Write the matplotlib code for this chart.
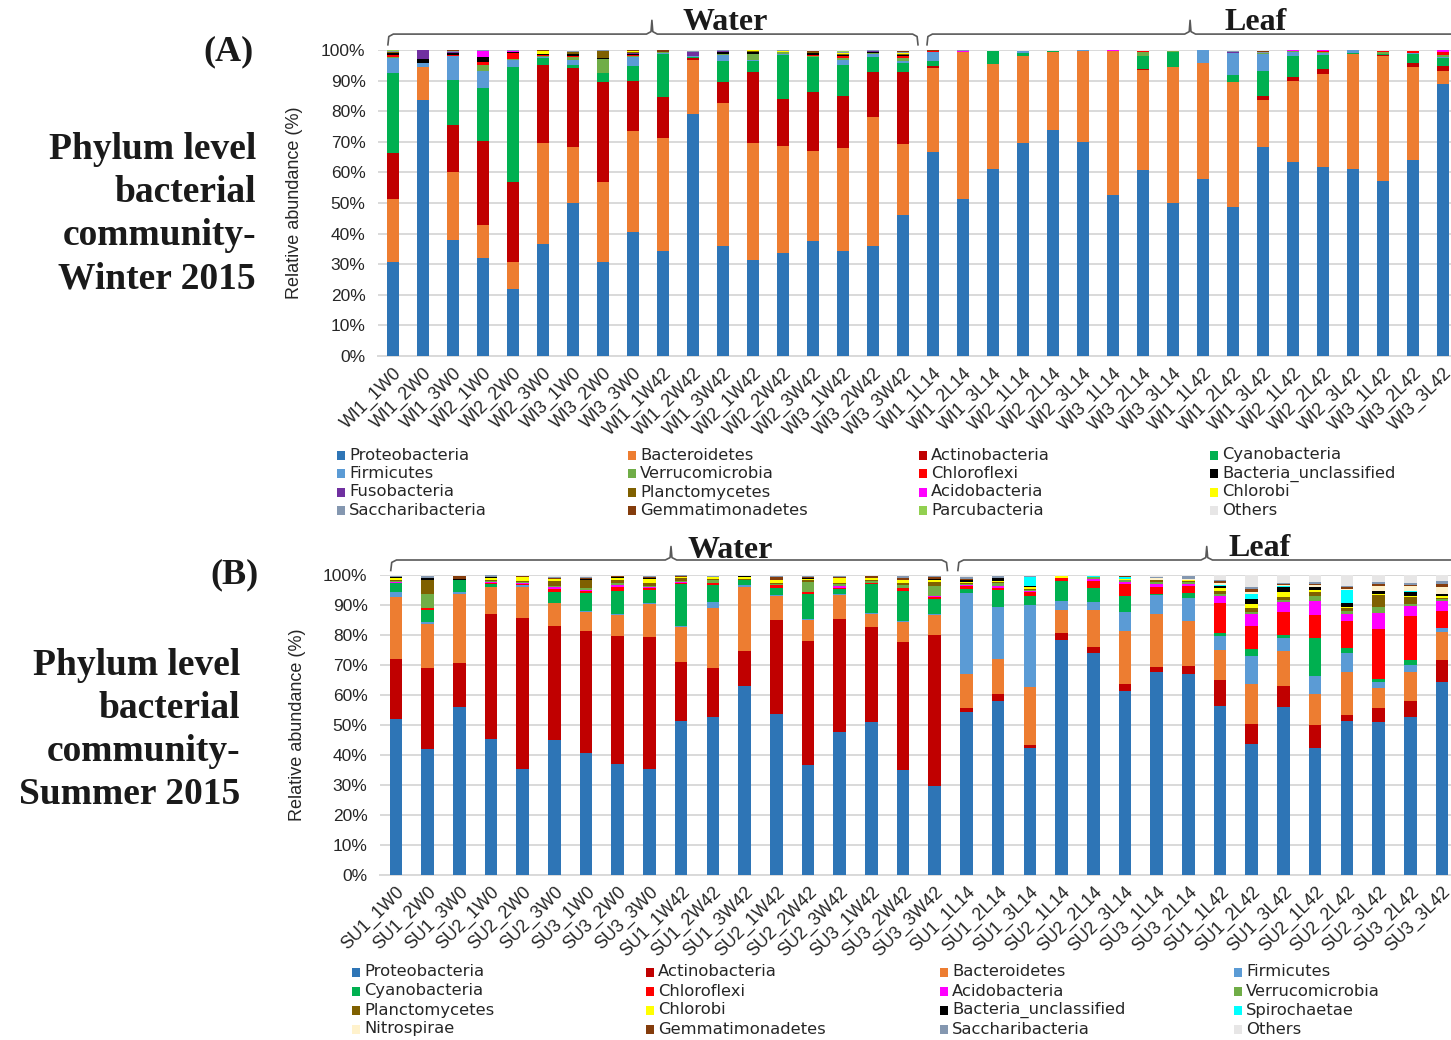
"""
plot.py - Stacked phylum-level relative abundance bars, winter (A) and summer (B) 2015.
"""
import numpy as np
import matplotlib
matplotlib.use("Agg")
import matplotlib.pyplot as plt
import matplotlib.transforms as mtransforms
from matplotlib.patches import Rectangle

W, H = 1451, 1040

COLORS = {
    "Proteobacteria": "#2E75B6", "Bacteroidetes": "#ED7D31", "Actinobacteria": "#C00000",
    "Cyanobacteria": "#00B050", "Firmicutes": "#5B9BD5", "Verrucomicrobia": "#70AD47",
    "Chloroflexi": "#FF0000", "Bacteria_unclassified": "#000000", "Fusobacteria": "#7030A0",
    "Planctomycetes": "#7F6000", "Acidobacteria": "#FF00FF", "Chlorobi": "#FFFF00",
    "Saccharibacteria": "#8497B0", "Gemmatimonadetes": "#843C0C", "Parcubacteria": "#92D050",
    "Others": "#E7E6E6", "Spirochaetae": "#00FFFF", "Nitrospirae": "#FFF2CC",
}

# ---------------- Panel A: winter 2015 ----------------
labels_a = ["WI1_1W0", "WI1_2W0", "WI1_3W0", "WI2_1W0", "WI2_2W0", "WI2_3W0",
            "WI3_1W0", "WI3_2W0", "WI3_3W0", "WI1_1W42", "WI1_2W42", "WI1_3W42",
            "WI2_1W42", "WI2_2W42", "WI2_3W42", "WI3_1W42", "WI3_2W42", "WI3_3W42",
            "WI1_1L14", "WI1_2L14", "WI1_3L14", "WI2_1L14", "WI2_2L14", "WI2_3L14",
            "WI3_1L14", "WI3_2L14", "WI3_3L14", "WI1_1L42", "WI1_2L42", "WI1_3L42",
            "WI2_1L42", "WI2_2L42", "WI2_3L42", "WI3_1L42", "WI3_2L42", "WI3_3L42"]

prot_a = [30.8, 83.5, 37.9, 32.0, 21.8, 36.7, 49.9, 30.8, 40.6, 34.3, 79.1, 36.0, 31.4, 33.6, 37.6, 34.4, 36.0, 46.1,
          66.8, 51.4, 61.2, 69.5, 73.8, 69.8, 52.7, 60.9, 49.9, 57.9, 48.7, 68.3, 63.3, 61.9, 61.2, 57.3, 64.1, 88.9]
bact_a = [20.6, 10.8, 22.1, 10.8, 9.0, 32.8, 18.4, 26.2, 33.0, 36.8, 17.6, 46.8, 38.1, 35.0, 29.5, 33.6, 42.2, 23.1,
          27.4, 47.8, 34.2, 28.7, 25.4, 30.0, 47.0, 32.6, 44.7, 37.9, 40.9, 15.2, 26.6, 30.4, 37.4, 40.6, 30.4, 4.3]
actino_a = [15.1, 0, 15.5, 27.4, 26.2, 25.7, 25.7, 32.5, 16.3, 13.6, 0.7, 6.7, 23.3, 15.5, 19.1, 16.9, 14.6, 23.6,
            0.6, 0, 0, 0, 0, 0, 0, 0.4, 0, 0, 0, 1.5, 1.3, 1.5, 0, 0.4, 1.2, 1.6]
cyano_a = [25.9, 0.2, 14.6, 17.3, 37.5, 2.2, 1.2, 2.9, 4.8, 14.1, 0.2, 6.9, 3.6, 14.3, 11.4, 10.3, 4.8, 2.8,
           1.6, 0.3, 4.4, 0.9, 0.6, 0, 0, 4.0, 4.6, 0, 2.3, 8.0, 6.7, 4.6, 0.3, 0.5, 2.9, 2.6]
firm_a = [5.0, 1.2, 7.8, 5.5, 2.1, 0.3, 1.4, 0.2, 2.9, 0.3, 0.3, 2.0, 0.2, 0.4, 0.2, 1.4, 1.1, 0.9,
          2.8, 0, 0, 0.5, 0, 0.2, 0, 0, 0, 4.2, 7.1, 5.7, 1.3, 0.7, 1.1, 0, 0.3, 0.3]
verru_a = [0.3, 0, 0.2, 2.2, 0.4, 0.5, 1.0, 4.3, 0.3, 0.1, 0, 0.2, 2.1, 0.6, 0.2, 0.8, 0.2, 1.0,
           0, 0, 0, 0.2, 0, 0, 0, 1.6, 0.6, 0, 0, 0.3, 0.4, 0.3, 0, 0.6, 0.2, 0.8]
chloro_a = [0.8, 0, 0.4, 0.9, 2.1, 0.3, 0.5, 0, 0.5, 0.2, 0, 0, 0.1, 0, 0.4, 0.5, 0.1, 0.4,
            0.4, 0, 0, 0, 0, 0, 0, 0.3, 0, 0, 0, 0, 0, 0.3, 0, 0.3, 0.5, 1.0]
uncl_a = [0.5, 1.3, 0.5, 1.5, 0.1, 0.1, 0.6, 0.4, 0.2, 0, 0, 0.6, 0.5, 0, 0.6, 0.6, 0.4, 0.5,
          0, 0, 0, 0, 0, 0, 0, 0, 0, 0, 0, 0, 0, 0, 0, 0, 0, 0]
fuso_a = [0, 3.0, 0.3, 0, 0.3, 0, 0, 0, 0.5, 0, 1.6, 0.4, 0, 0, 0, 0, 0.2, 0,
          0.2, 0, 0, 0, 0, 0, 0, 0, 0, 0, 0.3, 0, 0, 0, 0, 0, 0, 0]
plancto_a = [0.3, 0, 0.2, 0, 0, 0.2, 0.5, 2.4, 0.1, 0, 0, 0.1, 0.3, 0.1, 0.4, 0.3, 0.1, 0.4,
             0, 0, 0, 0, 0, 0, 0, 0, 0, 0, 0, 0, 0, 0, 0, 0, 0, 0]
acido_a = [0, 0, 0, 2.2, 0.3, 0, 0, 0, 0.3, 0, 0, 0, 0, 0, 0, 0, 0, 0,
           0, 0.3, 0, 0, 0, 0, 0.3, 0, 0, 0, 0, 0, 0.4, 0.2, 0, 0, 0, 0.4]
chlorobi_a = [0.2, 0, 0, 0, 0, 0.9, 0.2, 0.1, 0.1, 0, 0, 0, 0.3, 0.3, 0, 0.2, 0, 0.2,
              0, 0, 0, 0, 0, 0, 0, 0, 0, 0, 0, 0, 0, 0, 0, 0, 0, 0]
sacch_a = [0.2, 0, 0.3, 0.1, 0.1, 0.1, 0.2, 0.1, 0.2, 0, 0.3, 0.2, 0, 0.1, 0.1, 0.2, 0.2, 0.2,
           0, 0.1, 0, 0, 0, 0, 0, 0, 0, 0, 0.4, 0.4, 0, 0, 0, 0, 0, 0]
gemma_a = [0.1, 0, 0.1, 0, 0, 0.1, 0.2, 0, 0.1, 0.5, 0, 0, 0.1, 0, 0.3, 0.2, 0, 0.6,
           0.1, 0, 0, 0, 0, 0, 0, 0, 0, 0, 0, 0.2, 0, 0, 0, 0, 0, 0]
parcu_a = [0.1, 0, 0, 0, 0, 0, 0, 0, 0, 0, 0, 0, 0, 0, 0, 0.4, 0, 0,
           0, 0, 0, 0, 0, 0, 0, 0, 0, 0, 0, 0, 0, 0, 0, 0, 0, 0]
others_a = [0.1, 0, 0.1, 0.1, 0.1, 0.1, 0.2, 0.1, 0.1, 0.1, 0.2, 0.1, 0, 0.1, 0.2, 0.2, 0.1, 0.2,
            0.1, 0.1, 0.2, 0.2, 0.2, 0, 0, 0.2, 0.2, 0, 0.3, 0.4, 0, 0.1, 0, 0.3, 0.4, 0.1]

# ---------------- Panel B: summer 2015 ----------------
labels_b = ["SU1_1W0", "SU1_2W0", "SU1_3W0", "SU2_1W0", "SU2_2W0", "SU2_3W0",
            "SU3_1W0", "SU3_2W0", "SU3_3W0", "SU1_1W42", "SU1_2W42", "SU1_3W42",
            "SU2_1W42", "SU2_2W42", "SU2_3W42", "SU3_1W42", "SU3_2W42", "SU3_3W42",
            "SU1_1L14", "SU1_2L14", "SU1_3L14", "SU2_1L14", "SU2_2L14", "SU2_3L14",
            "SU3_1L14", "SU3_2L14", "SU1_1L42", "SU1_2L42", "SU1_3L42", "SU2_1L42",
            "SU2_2L42", "SU2_3L42", "SU3_2L42", "SU3_3L42"]

prot_b = [51.9, 42.0, 56.0, 45.4, 35.4, 45.0, 40.7, 36.9, 35.3, 51.3, 52.6, 62.9, 53.7, 36.7, 47.7, 51.0, 35.0, 29.7,
          54.3, 58.1, 42.4, 78.2, 74.1, 61.3, 67.6, 67.0, 56.3, 43.6, 56.0, 42.4, 51.3, 51.0, 52.8, 64.4]
actino_b = [20.0, 27.1, 14.7, 41.6, 50.4, 37.9, 40.6, 42.8, 44.0, 19.7, 16.5, 11.9, 31.4, 41.2, 37.6, 31.6, 42.6, 50.3,
            1.4, 2.2, 0.8, 2.4, 2.0, 2.3, 1.7, 2.8, 8.8, 6.7, 7.1, 7.6, 2.0, 4.7, 5.3, 7.2]
bact_b = [20.9, 14.5, 23.0, 9.0, 10.3, 7.9, 6.4, 7.1, 11.0, 11.6, 20.0, 21.2, 7.8, 7.2, 7.9, 4.4, 6.6, 6.7,
          11.2, 11.7, 19.4, 7.7, 12.1, 17.7, 17.6, 15.0, 9.8, 13.3, 11.6, 10.3, 14.3, 6.5, 9.5, 9.3]
firm_b = [1.4, 0.8, 0.5, 0, 0.5, 0, 0.3, 0.3, 0.3, 0.3, 1.9, 0.6, 0.4, 0.4, 0.4, 0.4, 0.4, 0.2,
          27.1, 17.4, 27.4, 3.0, 2.8, 6.5, 6.4, 7.5, 4.8, 9.5, 4.4, 6.0, 6.4, 2.2, 2.4, 1.3]
cyano_b = [3.0, 3.9, 4.1, 0.9, 0, 3.4, 6.1, 7.7, 4.4, 14.0, 5.7, 1.7, 2.3, 8.2, 1.7, 9.7, 10.2, 5.1,
           1.3, 5.6, 3.1, 6.7, 4.7, 5.2, 0.3, 1.8, 1.0, 2.2, 0.9, 12.8, 1.6, 0.9, 1.7, 0.2]
chloro_b = [0.3, 0.8, 0, 0.6, 0.4, 1.1, 0.5, 1.3, 0.7, 0.4, 0.7, 0, 1.0, 0.6, 0.3, 0.4, 1.0, 0.8,
            1.1, 0.8, 1.1, 1.1, 2.4, 4.0, 2.5, 2.3, 10.0, 7.8, 7.8, 7.6, 9.2, 16.7, 14.6, 5.6]
acido_b = [0.3, 0, 0, 0.2, 0.3, 0.6, 0.3, 0.7, 0.4, 0.3, 0, 0, 0, 0, 0.9, 0, 0, 0.3,
           0.3, 0.7, 0.6, 0, 0.6, 0.6, 0.9, 0.6, 2.3, 3.8, 3.3, 4.7, 2.1, 5.4, 3.5, 3.3]
verru_b = [0.3, 4.6, 0, 0.4, 0.4, 0.6, 0.9, 0.7, 0.4, 0.5, 0.8, 0.2, 0.3, 3.3, 0.5, 0.4, 0.9, 3.3,
           0.3, 0.8, 0.3, 0, 0.5, 0.6, 0.7, 0.6, 0.8, 0.9, 0.7, 1.6, 1.1, 2.0, 0.7, 0.6]
plancto_b = [0.4, 4.6, 0, 0.4, 0.3, 1.6, 2.7, 0.9, 0.9, 0.8, 0.4, 0.2, 0.4, 0.8, 0.5, 0.6, 0.5, 1.2,
             0.3, 0.5, 0.3, 0, 0, 0.3, 0.5, 0.3, 0.8, 1.3, 0.8, 1.5, 0.9, 3.9, 2.2, 0.6]
chlorobi_b = [0.4, 0, 0, 0.6, 1.2, 0.5, 0, 0.7, 1.3, 0.3, 0.6, 0.6, 1.2, 0.4, 1.5, 0.6, 1.0, 0.8,
              0.3, 0.3, 0.5, 0.5, 0.2, 0.3, 0.3, 0.4, 1.2, 1.4, 1.6, 0.5, 0.6, 0.4, 0.4, 0.4]
uncl_b = [0.3, 0.8, 0.4, 0.3, 0.3, 0, 0.3, 0.3, 0.4, 0, 0.3, 0.4, 0, 0.3, 0, 0, 0.3, 0.3,
          0.7, 0.8, 0.4, 0, 0, 0, 0, 0, 0.6, 1.4, 1.7, 1.0, 1.3, 1.0, 1.4, 0.7]
spiro_b = [0, 0, 0, 0, 0, 0, 0, 0, 0, 0, 0, 0, 0, 0, 0, 0, 0, 0,
           0.2, 0, 2.9, 0, 0.3, 0.7, 0, 0, 0.2, 1.7, 0.3, 0, 4.2, 0, 0.3, 0]
nitro_b = [0, 0, 0, 0, 0, 0, 0, 0, 0, 0, 0, 0, 0, 0, 0, 0, 0, 0,
           0, 0, 0, 0, 0, 0, 0.4, 0.3, 0.6, 0.6, 0.4, 0.7, 0.3, 1.7, 1.7, 2.5]
gemma_b = [0.2, 0, 1.0, 0.1, 0.1, 0.3, 0.2, 0.2, 0.2, 0.6, 0, 0, 0.8, 0.2, 0.5, 0.5, 0.6, 0.7,
           0.2, 0.2, 0.2, 0.2, 0, 0.2, 0.2, 0.2, 0.8, 1.1, 0.3, 0.3, 0.8, 0.5, 0.3, 1.0]
sacch_b = [0.2, 0.5, 0.1, 0.4, 0.2, 0.6, 0.5, 0.2, 0.5, 0.1, 0.2, 0.1, 0.3, 0.4, 0.2, 0.2, 0.5, 0.2,
           0.6, 0.5, 0.3, 0, 0.1, 0.1, 0.3, 0.8, 0.3, 0.6, 0.6, 0.6, 0.3, 0.8, 0.7, 0.9]
others_b = [0.4, 0.4, 0.2, 0.1, 0.2, 0.5, 0.5, 0.2, 0.2, 0.1, 0.3, 0.2, 0.4, 0.3, 0.3, 0.2, 0.4, 0.4,
            0.7, 0.4, 0.3, 0.2, 0.2, 0.2, 0.6, 0.4, 1.7, 4.1, 2.5, 2.4, 3.6, 2.3, 2.5, 2.0]

# stacking order (bottom -> top), also the row-wise legend order
series_a = [("Proteobacteria", prot_a), ("Bacteroidetes", bact_a), ("Actinobacteria", actino_a),
            ("Cyanobacteria", cyano_a), ("Firmicutes", firm_a), ("Verrucomicrobia", verru_a),
            ("Chloroflexi", chloro_a), ("Bacteria_unclassified", uncl_a), ("Fusobacteria", fuso_a),
            ("Planctomycetes", plancto_a), ("Acidobacteria", acido_a), ("Chlorobi", chlorobi_a),
            ("Saccharibacteria", sacch_a), ("Gemmatimonadetes", gemma_a), ("Parcubacteria", parcu_a),
            ("Others", others_a)]
series_b = [("Proteobacteria", prot_b), ("Actinobacteria", actino_b), ("Bacteroidetes", bact_b),
            ("Firmicutes", firm_b), ("Cyanobacteria", cyano_b), ("Chloroflexi", chloro_b),
            ("Acidobacteria", acido_b), ("Verrucomicrobia", verru_b), ("Planctomycetes", plancto_b),
            ("Chlorobi", chlorobi_b), ("Bacteria_unclassified", uncl_b), ("Spirochaetae", spiro_b),
            ("Nitrospirae", nitro_b), ("Gemmatimonadetes", gemma_b), ("Saccharibacteria", sacch_b),
            ("Others", others_b)]

SERIF = ["Liberation Serif", "DejaVu Serif"]
SANS = ["Liberation Sans", "DejaVu Sans"]
TEXT_COLOR = "#262626"


def fig_box(left, top, width, height):
    """Pixel box (top-left origin) -> figure fraction rect."""
    return [left / W, 1 - (top + height) / H, width / W, height / H]


def draw_bars(ax, labels, series):
    """Stacked bars plus Excel-like axis styling."""
    x = np.arange(len(labels))
    bottom = np.zeros(len(labels))
    for name, vals in series:
        vals = np.asarray(vals, dtype=float)
        ax.bar(x, vals, width=0.4, bottom=bottom, color=COLORS[name], linewidth=0, zorder=3)
        bottom += vals
    ax.set_xlim(-0.5, len(labels) - 0.5)
    ax.set_ylim(0, 100)
    ax.set_yticks(np.arange(0, 101, 10))
    ax.set_yticklabels([f"{v}%" for v in range(0, 101, 10)], family=SANS, fontsize=12.5, color=TEXT_COLOR)
    ax.set_xticks(x)
    ax.set_xticklabels(labels, rotation=45, ha="right", rotation_mode="anchor",
                       family=SANS, fontsize=12.8, color=TEXT_COLOR)
    ax.tick_params(axis="y", length=0, pad=9)
    ax.tick_params(axis="x", length=0, pad=6)
    ax.yaxis.grid(True, color="#D9D9D9", linewidth=1.4, zorder=0)
    ax.set_axisbelow(True)
    for side in ("top", "right", "left"):
        ax.spines[side].set_visible(False)
    ax.spines["bottom"].set_color("#D9D9D9")
    ax.spines["bottom"].set_linewidth(1.4)
    ax.set_ylabel("Relative abundance (%)", family=SANS, fontsize=13, color=TEXT_COLOR)
    ax.yaxis.set_label_coords(-0.069, 0.5)


def draw_brace(ax, x0, x1, xm, y, text, tx, ty):
    """Curly-brace style bracket above a group of bars (x in data, y in axes units)."""
    trans = mtransforms.blended_transform_factory(ax.transData, ax.transAxes)
    d = 0.18
    xs = [x0, x0 + 0.03, x0 + d, xm - d, xm - 0.03, xm, xm + 0.03, xm + d, x1 - d, x1 - 0.03, x1]
    ys = [y - 0.035, y - 0.008, y, y, y + 0.008, y + 0.045, y + 0.008, y, y, y - 0.008, y - 0.035]
    ax.plot(xs, ys, color="#595959", linewidth=1.2, transform=trans, clip_on=False, zorder=5)
    ax.text(tx, ty, text, transform=trans, ha="center", va="baseline",
            family=SERIF, fontweight="bold", fontsize=23, color="#1a1a1a")


def draw_legend(fig, series, x0, y0, dx, dy):
    """Four-column legend, filled row by row like the Excel original."""
    for i, (name, _) in enumerate(series):
        col, row = i % 4, i // 4
        xl = x0 + col * dx
        yc = y0 + row * dy
        fig.add_artist(Rectangle((xl / W, 1 - (yc + 4.5) / H), 8 / W, 9 / H,
                                 transform=fig.transFigure, color=COLORS[name], lw=0))
        fig.text((xl + 12) / W, 1 - yc / H, name, ha="left", va="center",
                 family=["DejaVu Sans"], fontsize=11.8, color=TEXT_COLOR)


fig = plt.figure(figsize=(W / 100, H / 100), dpi=100)
fig.patch.set_facecolor("white")

# panel A (axes run past the right edge of the picture, as in the source)
ax_a = fig.add_axes(fig_box(378, 50, 36 * 30, 306))
draw_bars(ax_a, labels_a, series_a)
draw_brace(ax_a, -0.17, 17.5, 8.63, 1.052, "Water", 11.07, 1.065)
draw_brace(ax_a, 17.8, 40, 26.57, 1.052, "Leaf", 28.77, 1.065)

# panel B
ax_b = fig.add_axes(fig_box(380, 575, 34 * 31.7, 300))
draw_bars(ax_b, labels_b, series_b)
draw_brace(ax_b, -0.16, 17.4, 8.68, 1.05, "Water", 10.54, 1.057)
draw_brace(ax_b, 17.73, 40, 25.58, 1.05, "Leaf", 27.26, 1.063)

draw_legend(fig, series_a, 337, 455, 291, 18.5)
draw_legend(fig, series_b, 352, 972, 294, 19)

# left-hand panel titles
fig.text(229 / W, 1 - 52 / H, "(A)", ha="center", va="center",
         family=SERIF, fontweight="bold", fontsize=26, color="#1a1a1a")
fig.text(256 / W, 1 - 214 / H, "Phylum level\nbacterial\ncommunity-\nWinter 2015",
         ha="right", va="center", multialignment="right", linespacing=1.3,
         family=SERIF, fontweight="bold", fontsize=27, color="#1a1a1a")
fig.text(235 / W, 1 - 575 / H, "(B)", ha="center", va="center",
         family=SERIF, fontweight="bold", fontsize=26, color="#1a1a1a")
fig.text(240 / W, 1 - 730 / H, "Phylum level\nbacterial\ncommunity-\nSummer 2015",
         ha="right", va="center", multialignment="right", linespacing=1.3,
         family=SERIF, fontweight="bold", fontsize=27, color="#1a1a1a")

fig.savefig("out.png", dpi=100, facecolor="white")
plt.close(fig)
